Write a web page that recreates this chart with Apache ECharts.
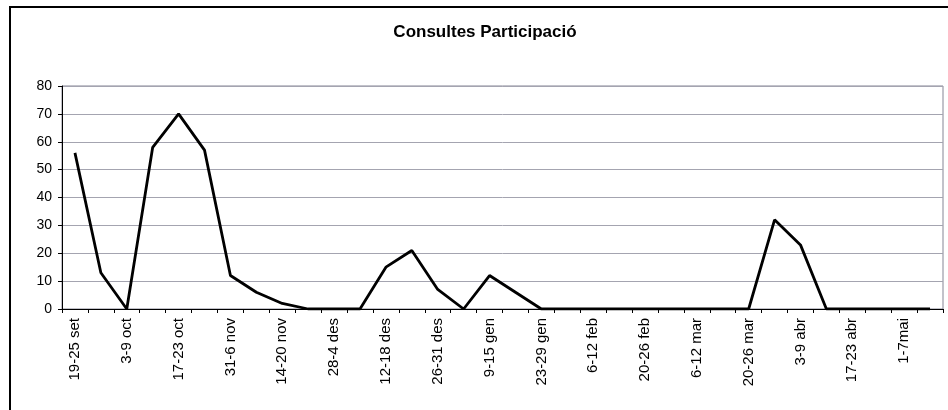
<!DOCTYPE html>
<html>
<head>
<meta charset="utf-8">
<script src="https://cdn.jsdelivr.net/npm/echarts@6/dist/echarts.min.js"></script>
<style>
html,body{margin:0;padding:0;background:#fff;}
#c{width:948px;height:410px;}
</style>
</head>
<body>
<div id="c"></div>
<script>
var titleText = 'Consultes Participació';
var categories = [
  '19-25 set','26-2 oct','3-9 oct','10-16 oct','17-23 oct','24-30 oct',
  '31-6 nov','7-13 nov','14-20 nov','21-27 nov','28-4 des','5-11 des',
  '12-18 des','19-25 des','26-31 des','1-8 gen','9-15 gen','16-22 gen',
  '23-29 gen','30-5 feb','6-12 feb','13-19 feb','20-26 feb','27-5 mar',
  '6-12 mar','13-19 mar','20-26 mar','27-2 abr','3-9 abr','10-16 abr',
  '17-23 abr','24-30 abr','1-7mai','8-14mai'
];
var values = [
  56,13,0,58,70,57,
  12,6,2,0,0,0,
  15,21,7,0,12,6,
  0,0,0,0,0,0,
  0,0,0,32,23,0,
  0,0,0,0
];
var yTicks = {min:0, max:80, interval:10};

var chart = echarts.init(document.getElementById('c'), null, {renderer:'canvas'});
var font = 'Liberation Sans, Arial, sans-serif';
chart.setOption({
  animation:false,
  backgroundColor:'#fff',
  graphic:[
    {type:'rect', shape:{x:10, y:7, width:1000, height:500},
     style:{fill:'none', stroke:'#000', lineWidth:2}, silent:true},
    {type:'text', style:{x:485, y:32, text:titleText, textAlign:'center', textVerticalAlign:'middle',
     fontFamily:font, fontWeight:'bold', fontSize:17, fill:'#000'}}
  ],
  grid:{left:62, right:5, top:86, bottom:101, show:true, borderColor:'#858595', borderWidth:1, backgroundColor:'transparent'},
  xAxis:{
    type:'category', data:categories, boundaryGap:true,
    axisLine:{show:true, lineStyle:{color:'#000', width:1}},
    axisTick:{show:true, interval:0, length:4, lineStyle:{color:'#000'}},
    axisLabel:{interval:1, rotate:90, margin:9, fontFamily:font, fontSize:15, color:'#000'},
    splitLine:{show:false}
  },
  yAxis:{
    type:'value', min:yTicks.min, max:yTicks.max, interval:yTicks.interval,
    axisLine:{show:true, lineStyle:{color:'#000', width:1}},
    axisTick:{show:true, length:4, lineStyle:{color:'#000'}},
    axisLabel:{margin:10, fontFamily:font, fontSize:14, color:'#000'},
    splitLine:{show:true, lineStyle:{color:'#a4a4b0', width:1}}
  },
  series:[{
    type:'line', data:values, symbol:'none', smooth:false,
    lineStyle:{color:'#000', width:2.8}, itemStyle:{color:'#000'}
  }]
});
</script>
</body>
</html>
